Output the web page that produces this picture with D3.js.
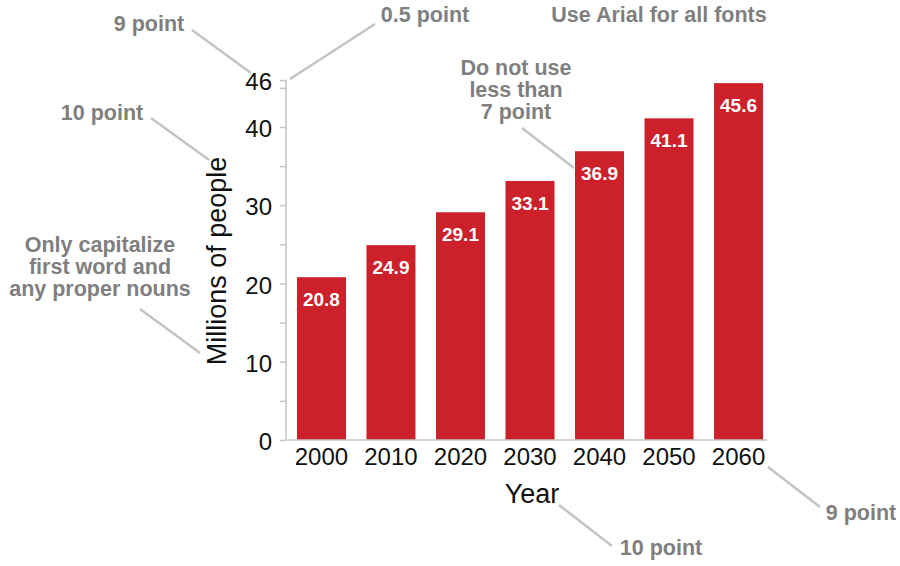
<!DOCTYPE html>
<html lang="en">
<head>
    <meta charset="UTF-8">
    <title>Millions of people by year</title>
    <style>
        body { margin: 0; background: #fff; }
        svg text { font-family: Arial, "Liberation Sans", sans-serif; }
    </style>
</head>
<body>
    <div id="chart"></div>

    <script src="https://d3js.org/d3.v7.min.js"></script>
    <script type="text/javascript">
// chart data
const years = ["2000", "2010", "2020", "2030", "2040", "2050", "2060"];
const values = [20.8, 24.9, 29.1, 33.1, 36.9, 41.1, 45.6];
const yTicks = [0, 5, 10, 15, 20, 25, 30, 35, 40, 45, 46];
const yTickLabels = [0, 10, 20, 30, 40, 46];

const width = 900;
const height = 566;
const red = "#cc202a";
const noteGray = "#7f7f7f";
const lineGray = "#c4c4c4";

const svg = d3.select("#chart")
    .append("svg")
    .attr("width", width)
    .attr("height", height);

const xScale = d3.scaleBand()
    .domain(years)
    .range([290, 770])
    .paddingInner(0.295)
    .paddingOuter(0.1);

const yScale = d3.scaleLinear()
    .domain([0, 46])
    .range([440, 80]);

const axisX = 286;

// bars
svg.selectAll(".bar")
    .data(values)
    .enter()
    .append("rect")
    .attr("class", "bar")
    .attr("x", (d, i) => xScale(years[i]))
    .attr("y", d => yScale(d))
    .attr("width", xScale.bandwidth())
    .attr("height", d => yScale(0) - yScale(d))
    .attr("fill", red);

// value labels inside the bars
svg.selectAll(".value")
    .data(values)
    .enter()
    .append("text")
    .attr("class", "value")
    .attr("x", (d, i) => xScale(years[i]) + xScale.bandwidth() / 2)
    .attr("y", d => yScale(d) + 29)
    .attr("text-anchor", "middle")
    .attr("fill", "#fff")
    .attr("font-weight", "bold")
    .attr("font-size", "19px")
    .text(d => d.toFixed(1));

// y axis (drawn with d3.axisLeft, then styled)
const yAxis = svg.append("g")
    .attr("transform", `translate(${axisX},0)`)
    .call(d3.axisLeft(yScale)
        .tickValues(yTicks)
        .tickSize(6)
        .tickPadding(8)
        .tickFormat(d => yTickLabels.includes(d) ? d : ""));

yAxis.select(".domain").remove();
yAxis.selectAll(".tick line").attr("stroke", lineGray).attr("stroke-width", 1.5);
yAxis.selectAll(".tick text")
    .attr("fill", "#111")
    .attr("font-size", "24px")
    .attr("dy", "0.4em")
    .attr("font-family", null);

svg.append("line")
    .attr("x1", axisX).attr("x2", axisX)
    .attr("y1", yScale(46)).attr("y2", yScale(0))
    .attr("stroke", lineGray).attr("stroke-width", 1.5);

// x axis baseline + year labels
svg.append("line")
    .attr("x1", axisX).attr("x2", 767)
    .attr("y1", yScale(0)).attr("y2", yScale(0))
    .attr("stroke", lineGray).attr("stroke-width", 1.5);

svg.selectAll(".year")
    .data(years)
    .enter()
    .append("text")
    .attr("class", "year")
    .attr("x", d => xScale(d) + xScale.bandwidth() / 2)
    .attr("y", 465)
    .attr("text-anchor", "middle")
    .attr("fill", "#111")
    .attr("font-size", "24px")
    .text(d => d);

// axis titles
svg.append("text")
    .attr("transform", "translate(226,261) rotate(-90)")
    .attr("text-anchor", "middle")
    .attr("fill", "#111")
    .attr("font-size", "27px")
    .text("Millions of people");

svg.append("text")
    .attr("x", 532)
    .attr("y", 503)
    .attr("text-anchor", "middle")
    .attr("fill", "#111")
    .attr("font-size", "27px")
    .text("Year");

// style notes around the chart
const notes = [
    { lines: ["9 point"], x: 149, y: 31, line: [192, 30, 251, 73] },
    { lines: ["0.5 point"], x: 425, y: 22, line: [375, 24, 290, 79] },
    { lines: ["Use Arial for all fonts"], x: 659, y: 22 },
    { lines: ["10 point"], x: 102, y: 120, line: [151, 118, 209, 160] },
    { lines: ["Do not use", "less than", "7 point"], x: 516, y: 75, line: [522, 128, 574, 168] },
    { lines: ["Only capitalize", "first word and", "any proper nouns"], x: 100, y: 252, line: [140, 309, 200, 353] },
    { lines: ["10 point"], x: 661, y: 555, line: [559, 505, 612, 546] },
    { lines: ["9 point"], x: 861, y: 520, line: [768, 467, 820, 507] }
];

notes.forEach(function(n) {
    const t = svg.append("text")
        .attr("x", n.x)
        .attr("y", n.y)
        .attr("text-anchor", "middle")
        .attr("fill", noteGray)
        .attr("font-weight", "bold")
        .attr("font-size", "21.5px");
    n.lines.forEach(function(s, i) {
        t.append("tspan")
            .attr("x", n.x)
            .attr("dy", i === 0 ? 0 : 22)
            .text(s);
    });
    if (n.line) {
        svg.append("line")
            .attr("x1", n.line[0]).attr("y1", n.line[1])
            .attr("x2", n.line[2]).attr("y2", n.line[3])
            .attr("stroke", lineGray)
            .attr("stroke-width", 2.5);
    }
});
</script>
</body>
</html>
